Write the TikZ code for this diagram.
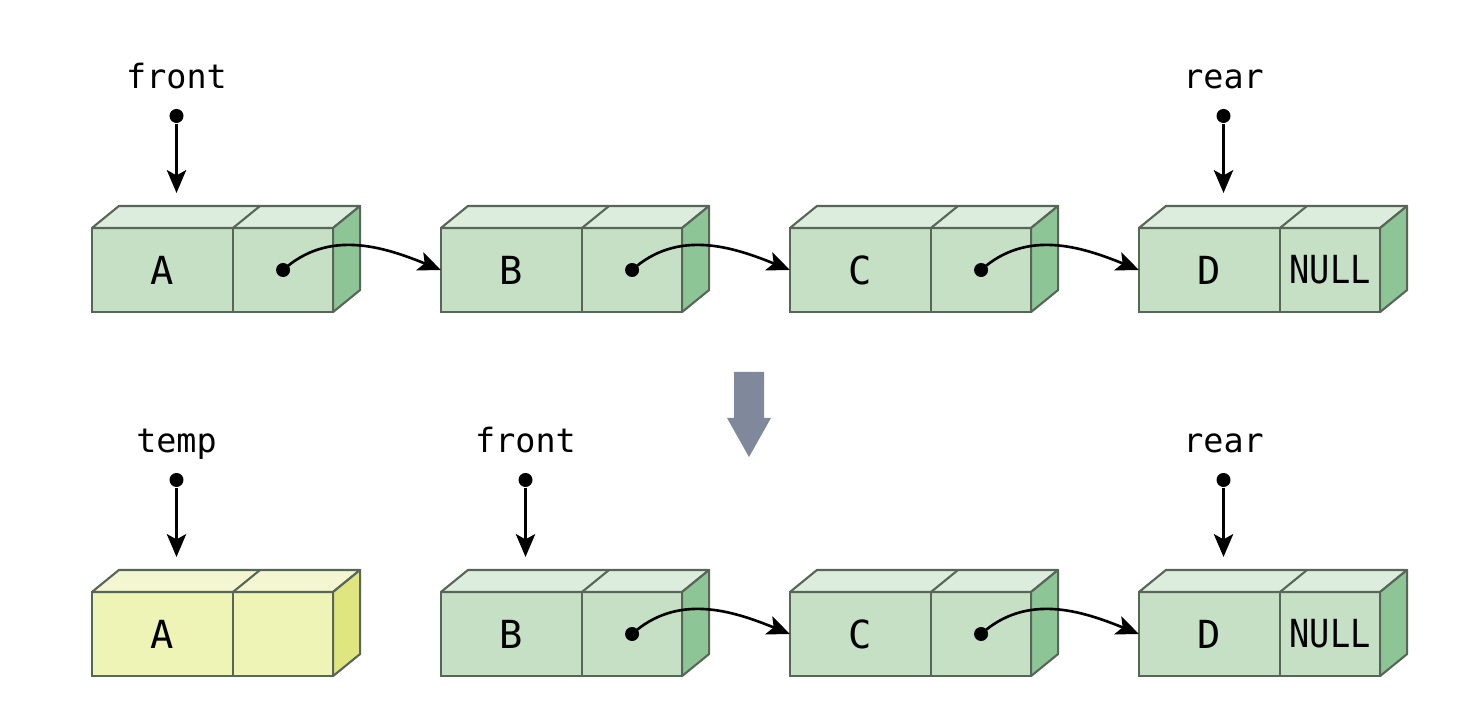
\documentclass[tikz,border=0pt]{standalone}
\usepackage{fontspec}
\setmonofont{DejaVu Sans Mono}
\newfontfamily\narrowmono[FakeStretch=0.87]{DejaVu Sans Mono}
\usetikzlibrary{arrows.meta, positioning}

\definecolor{cellline}{RGB}{88,102,88}
\definecolor{frontgreen}{RGB}{197,224,196}
\definecolor{topgreen}{RGB}{221,237,221}
\definecolor{sidegreen}{RGB}{142,197,150}
\definecolor{frontyellow}{RGB}{238,243,182}
\definecolor{topyellow}{RGB}{243,246,208}
\definecolor{sideyellow}{RGB}{223,230,128}
\definecolor{arrowgray}{RGB}{128,137,155}

\begin{document}
\begin{tikzpicture}[x=0.01cm, y=0.01cm,
            cell/.style={rectangle, draw=cellline, line width=0.6pt, fill=frontgreen,
                         minimum height=0.84cm, inner sep=0pt, outer sep=0pt,
                         font=\ttfamily\fontsize{11}{13}\selectfont},
            datacell/.style={cell, minimum width=1.41cm},
            ptrcell/.style={cell, minimum width=1.0cm},
            oldcell/.style={fill=frontyellow},
            face/.style={draw=cellline, line width=0.6pt, line join=round},
            ptrname/.style={font=\ttfamily\fontsize{9.5}{11}\selectfont, inner sep=0pt, anchor=base},
            ptrdot/.style={circle, fill=black, inner sep=0pt, minimum size=0.14cm},
            ptr/.style={-{Stealth[length=6.5pt, width=5.5pt, inset=1.5pt]}, line width=0.75pt}]
          \useasboundingbox (0,0) rectangle (1482,722);
          % before
          \node[datacell] (A1) at (162.5,452) {A};
          \node[ptrcell, right=0pt of A1] (A1p) {};
          \node[datacell] (B1) at (511.5,452) {B};
          \node[ptrcell, right=0pt of B1] (B1p) {};
          \node[datacell] (C1) at (860.5,452) {C};
          \node[ptrcell, right=0pt of C1] (C1p) {};
          \node[datacell] (D1) at (1209.5,452) {D};
          \node[ptrcell, right=0pt of D1] (D1p) {\narrowmono NULL};
          % after
          \node[datacell, oldcell] (A2) at (162.5,88) {A};
          \node[ptrcell, oldcell, right=0pt of A2] (A2p) {};
          \node[datacell] (B2) at (511.5,88) {B};
          \node[ptrcell, right=0pt of B2] (B2p) {};
          \node[datacell] (C2) at (860.5,88) {C};
          \node[ptrcell, right=0pt of C2] (C2p) {};
          \node[datacell] (D2) at (1209.5,88) {D};
          \node[ptrcell, right=0pt of D2] (D2p) {\narrowmono NULL};
          % top and side faces
          \foreach \n/\top/\side in {A1/topgreen/sidegreen, B1/topgreen/sidegreen,
                                     C1/topgreen/sidegreen, D1/topgreen/sidegreen,
                                     A2/topyellow/sideyellow, B2/topgreen/sidegreen,
                                     C2/topgreen/sidegreen, D2/topgreen/sidegreen} {
            \filldraw[face, fill=\top] (\n.north west) -- ++(27,22)
              -- ([shift={(27,22)}]\n p.north east) -- (\n p.north east) -- cycle;
            \draw[face] (\n.north east) -- ++(27,22);
            \filldraw[face, fill=\side] (\n p.north east) -- ++(27,22)
              -- ([shift={(27,22)}]\n p.south east) -- (\n p.south east) -- cycle;
          }
          % pointers
          \foreach \n/\t/\c in {A1/front/f1, D1/rear/r1, A2/temp/t2, B2/front/f2, D2/rear/r2} {
            \node[ptrdot] (\c) at ([shift={(14,112)}]\n.north) {};
            \node[ptrname] (\c name) at ([yshift=0.27cm]\c) {\t};
            \draw[ptr] (\c) -- ([shift={(14,35)}]\n.north);
          }
          % links
          \foreach \a/\b in {A1/B1, B1/C1, C1/D1, B2/C2, C2/D2} {
            \node[ptrdot] (\a dot) at (\a p) {};
            \draw[ptr] (\a dot.center) to[out=42, in=158] (\b.west);
          }
          % step arrow
          \fill[arrowgray] (734,350) -- (764,350) -- (764,304) -- (771,304)
            -- (749,265) -- (727,304) -- (734,304) -- cycle;
        \end{tikzpicture}
\end{document}
